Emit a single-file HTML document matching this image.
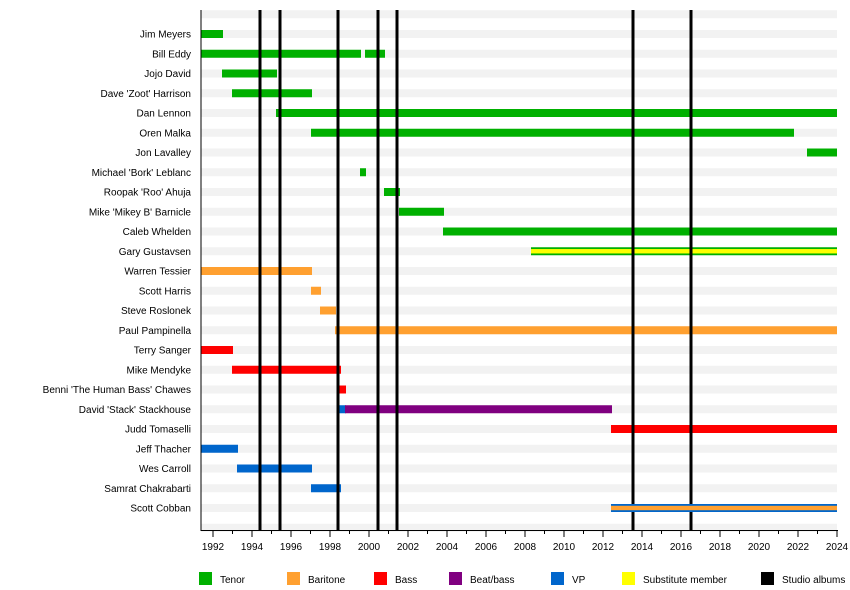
<!DOCTYPE html>
<html><head><meta charset="utf-8"><style>
body{margin:0;background:#fff}
svg{display:block;font-family:"Liberation Sans",Arial,sans-serif}
</style></head><body>
<svg width="850" height="590" xmlns="http://www.w3.org/2000/svg">
<g fill="#f2f2f2" id="stripes"></g>
<g id="bars"></g>
<g id="lines" stroke="#000" stroke-width="3"></g>
<g id="top"></g>
<line x1="201" y1="10" x2="201" y2="531" stroke="#000" stroke-width="1"/>
<line x1="201" y1="530.5" x2="838" y2="530.5" stroke="#000" stroke-width="1"/>
<g id="ticks" stroke="#000" stroke-width="1"></g>
<g id="tl" font-size="10" text-anchor="middle" fill="#000"></g>
<g id="names" font-size="10" text-anchor="end" fill="#000"></g>
<g id="legend" font-size="10" fill="#000"></g>
</svg>
<script>
const NS="http://www.w3.org/2000/svg";
function el(p,t,a,txt){const e=document.createElementNS(NS,t);for(const k in a)e.setAttribute(k,a[k]);if(txt)e.textContent=txt;document.getElementById(p).appendChild(e);return e;}
const G="#00b000",O="#ffa030",R="#ff0000",P="#800080",B="#0066cc",Y="#ffff00";
const rows=[
["Jim Meyers",[[201,223,G]]],
["Bill Eddy",[[201,361,G],[365,385,G]]],
["Jojo David",[[222,277,G]]],
["Dave 'Zoot' Harrison",[[232,312,G]]],
["Dan Lennon",[[276,837,G]]],
["Oren Malka",[[311,794,G]]],
["Jon Lavalley",[[807,837,G]]],
["Michael 'Bork' Leblanc",[[360,366,G]]],
["Roopak 'Roo' Ahuja",[[384,400,G]]],
["Mike 'Mikey B' Barnicle",[[399,444,G]]],
["Caleb Whelden",[[443,837,G]]],
["Gary Gustavsen",[[531,837,G,Y]]],
["Warren Tessier",[[201,312,O]]],
["Scott Harris",[[311,321,O]]],
["Steve Roslonek",[[320,336,O]]],
["Paul Pampinella",[[335,837,O]]],
["Terry Sanger",[[201,233,R]]],
["Mike Mendyke",[[232,341,R]]],
["Benni 'The Human Bass' Chawes",[[339,346,R]]],
["David 'Stack' Stackhouse",[[339,346,B],[345,612,P]]],
["Judd Tomaselli",[[611,837,R]]],
["Jeff Thacher",[[201,238,B]]],
["Wes Carroll",[[237,312,B]]],
["Samrat Chakrabarti",[[311,341,B]]],
["Scott Cobban",[[611,837,B,O]]]];
for(let i=-1;i<=25;i++){const y=34+19.75*i;el("stripes","rect",{x:201,y:y-4,width:636,height:8});}
rows.forEach((r,i)=>{const y=34+19.75*i;
 el("names","text",{x:191,y:y+3.5},r[0]);
 r[1].forEach(b=>{
  if(b[3]){el(i==24?"top":"bars","rect",{x:b[0],y:y-4,width:b[1]-b[0],height:8,fill:b[2]});
   el(i==24?"top":"bars","rect",{x:b[0],y:y-2.2,width:b[1]-b[0],height:4.4,fill:b[3]});}
  else el("bars","rect",{x:b[0],y:y-4,width:b[1]-b[0],height:8,fill:b[2]});
 });});
[260,280,338,378,397,633,691].forEach(x=>el("lines","line",{x1:x,y1:10,x2:x,y2:530}));
for(let yr=1992;yr<=2024;yr++){const x=213+(yr-1992)*19.5;const maj=yr%2==0;
 el("ticks","line",{x1:x,y1:530,x2:x,y2:maj?537:534});
 if(maj)el("tl","text",{x:x,y:550},String(yr));}
[[199,G,"Tenor"],[287,O,"Baritone"],[374,R,"Bass"],[449,P,"Beat/bass"],[551,B,"VP"],[622,Y,"Substitute member"],[761,"#000","Studio albums"]].forEach(l=>{
 el("legend","rect",{x:l[0],y:572,width:13,height:13,fill:l[1]});
 el("legend","text",{x:l[0]+21,y:583},l[2]);});
</script>
</body></html>
